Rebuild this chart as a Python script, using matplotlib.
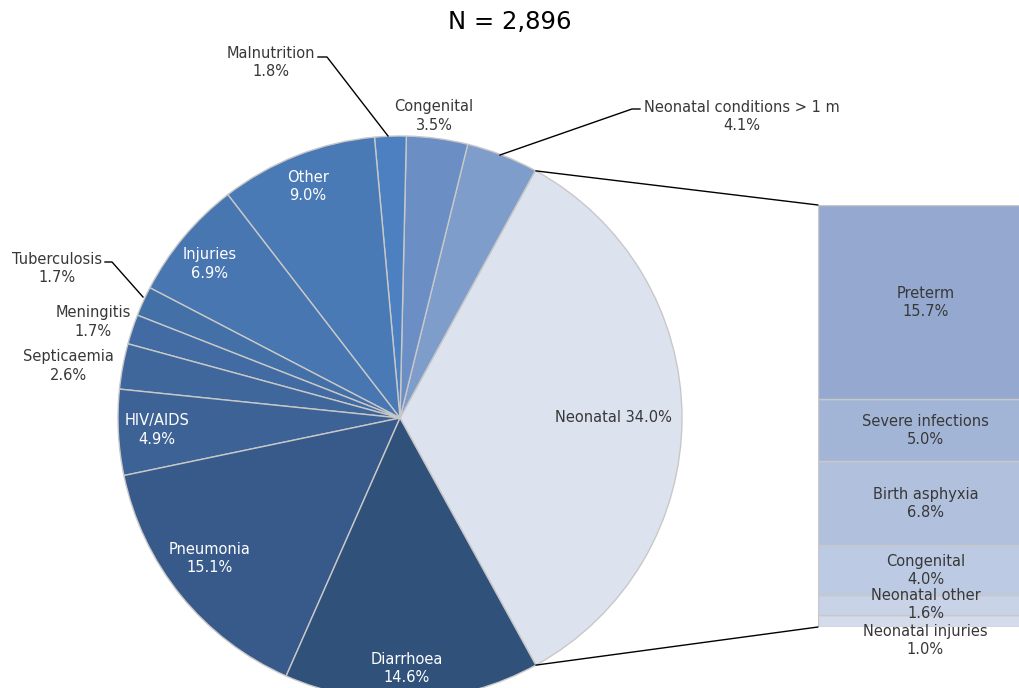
import numpy as np
import matplotlib
matplotlib.use('Agg')
import matplotlib.pyplot as plt
from matplotlib.patches import ConnectionPatch

plt.rcParams['font.family'] = ['DejaVu Sans']

# main causes, counter-clockwise starting with the neonatal slice
causes = ['Neonatal', 'Neonatal conditions > 1 m', 'Congenital', 'Malnutrition', 'Other',
          'Injuries', 'Tuberculosis', 'Meningitis', 'Septicaemia', 'HIV/AIDS',
          'Pneumonia', 'Diarrhoea']
shares = [34.0, 4.1, 3.5, 1.8, 9.0, 6.9, 1.7, 1.7, 2.6, 4.9, 15.1, 14.6]
slice_colors = ['#dce2ee', '#7f9dcb', '#6b8fc5', '#4c80c0', '#4a7ab5', '#4776b0',
                '#4470a8', '#416ba2', '#3f679c', '#3c6296', '#375a8a', '#30517a']

# breakdown of the neonatal slice, bottom to top
sub_causes = ['Neonatal injuries', 'Neonatal other', 'Congenital', 'Birth asphyxia',
              'Severe infections', 'Preterm']
sub_shares = [1.0, 1.6, 4.0, 6.8, 5.0, 15.7]
sub_colors = ['#d4dcec', '#c9d3e8', '#bdcae3', '#b0c0dd', '#a3b5d6', '#95a9d0']

W, H = 1019, 688
fig = plt.figure(figsize=(W / 100, H / 100), dpi=100)
fig.text(0.5, 1 - 22 / H, 'N = 2,896', ha='center', va='center', fontsize=17.5, color='#000000')

# pie
ax = fig.add_axes([118 / W, -12 / H, 564 / W, 564 / H])
start = -shares[0] / 100 * 360 / 2
wedges, _ = ax.pie(shares, colors=slice_colors, startangle=start, counterclock=True,
                   radius=1, wedgeprops=dict(edgecolor='#c8c8c8', linewidth=1))
ax.set_xlim(-1, 1)
ax.set_ylim(-1, 1)
ax.set_aspect('equal')
ax.axis('off')


def px(x, y):
    return (x - 400) / 282, (418 - y) / 282


fs = 10.5
dark = '#383838'
# label positions (pixel centres) and text colours
label_pos = {
    'Neonatal': ((613, 418), dark),
    'Neonatal conditions > 1 m': ((742, 116), dark),
    'Congenital': ((434, 116), dark),
    'Malnutrition': ((271, 62), dark),
    'Other': ((308, 186), 'white'),
    'Injuries': ((210, 264), 'white'),
    'Tuberculosis': ((57, 268), dark),
    'Meningitis': ((93, 322), dark),
    'Septicaemia': ((68, 366), dark),
    'HIV/AIDS': ((157, 430), 'white'),
    'Pneumonia': ((210, 558), 'white'),
    'Diarrhoea': ((407, 668), 'white'),
}
for name, val in zip(causes, shares):
    (lx, ly), col = label_pos[name]
    if name == 'Neonatal':
        txt = f'{name} {val:.1f}%'
    else:
        txt = f'{name}\n{val:.1f}%'
    ax.text(*px(lx, ly), txt, ha='center', va='center', fontsize=fs, color=col,
            linespacing=1.25, clip_on=False)

# leader lines for small slices
leaders = [
    [(500, 155), (632, 109), (640, 109)],
    [(388, 136), (327, 57), (318, 57)],
    [(143, 297), (112, 262), (105, 262)],
]
for pts in leaders:
    xs, ys = zip(*[px(x, y) for x, y in pts])
    ax.plot(xs, ys, color='black', linewidth=1, clip_on=False)

# stacked bar of the neonatal breakdown
bx = fig.add_axes([818 / W, (H - 627) / H, 215 / W, 422 / H])
bottom = 0
for name, val, col in zip(sub_causes, sub_shares, sub_colors):
    bx.bar(0, val, bottom=bottom, width=1, color=col, edgecolor='#c8c8c8', linewidth=1)
    yc = bottom + val / 2
    if name == 'Neonatal injuries':
        yc = bottom - 1.1
    bx.text(0, yc, f'{name}\n{val:.1f}%', ha='center', va='center', fontsize=fs,
            color=dark, linespacing=1.25, clip_on=False)
    bottom += val
bx.set_xlim(-0.5, 0.5)
bx.set_ylim(0, sum(sub_shares))
bx.axis('off')

# connectors from the neonatal slice to the bar
theta1 = np.deg2rad(-start)
theta2 = np.deg2rad(start)
for th, yb in [(theta1, sum(sub_shares)), (theta2, 0)]:
    con = ConnectionPatch(xyA=(np.cos(th), np.sin(th)), coordsA=ax.transData,
                          xyB=(-0.5, yb), coordsB=bx.transData,
                          color='black', linewidth=1)
    fig.add_artist(con)

fig.savefig('out.png', dpi=100)
